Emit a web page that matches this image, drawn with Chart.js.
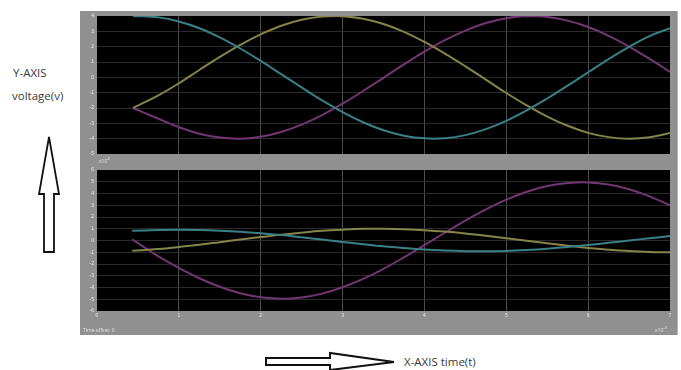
<!DOCTYPE html>
<html>
<head>
<meta charset="utf-8">
<script src="https://cdn.jsdelivr.net/npm/chart.js@4.4.1/dist/chart.umd.min.js"></script>
<style>
  body { margin: 0; background: #fff; width: 681px; height: 370px; overflow: hidden; position: relative; font-family: "Open Sans", sans-serif; }
  #panel { position: absolute; left: 80px; top: 11px; width: 597px; height: 324px; background: #909090; border-right: 1px solid #b4b4b4; }
  canvas { position: absolute; left: 80px; }
  #top { top: 11px; }
  #bottom { top: 161px; }
  .lbl { position: absolute; color: #3a3a3a; font-size: 11.5px; white-space: nowrap; }
  .tiny { position: absolute; color: #e6e6e6; font-size: 5px; white-space: nowrap; }
  svg { position: absolute; left: 0; top: 0; }
</style>
</head>
<body>
<div id="panel"></div>
<canvas id="top" width="597" height="150"></canvas>
<canvas id="bottom" width="597" height="174"></canvas>

<div class="lbl" style="left:13px;top:65px;">Y-AXIS</div>
<div class="lbl" style="left:12px;top:88px;">voltage(v)</div>
<div class="lbl" style="left:404px;top:354px;">X-AXIS time(t)</div>
<div class="tiny" style="left:83px;top:327px;">Time offset: 0</div>
<div class="tiny" style="left:99px;top:156px;">x10<sup>4</sup></div>
<div class="tiny" style="left:655px;top:325px;">x10<sup>-3</sup></div>

<svg width="681" height="370">
  <polygon points="49,137 59,194 54,194 54,252 44,252 44,194 39,194"
           fill="#fff" stroke="#111" stroke-width="1.8" stroke-linejoin="miter"/>
  <polygon points="266,358 330,358 330,353 394,362 330,370 330,365 266,365"
           fill="#fff" stroke="#111" stroke-width="2" stroke-linejoin="miter"/>
</svg>

<script>
// time in divisions (scope x-axis 0..7)
const topTime = [0.44, 0.75, 1.0, 1.25, 1.5, 1.75, 2.0, 2.25, 2.5, 2.75, 3.0, 3.25, 3.5, 3.75, 4.0,
  4.25, 4.5, 4.75, 5.0, 5.25, 5.5, 5.75, 6.0, 6.25, 6.5, 6.75, 7.0];
const topCyan = [4.0, 3.91, 3.64, 3.20, 2.60, 1.88, 1.07, 0.21, -0.66, -1.50, -2.27, -2.93, -3.45, -3.81, -3.98,
  -3.97, -3.77, -3.38, -2.84, -2.16, -1.38, -0.54, 0.33, 1.19, 1.99, 2.69, 3.20];
const topYellow = [-2.0, -1.18, -0.39, 0.48, 1.33, 2.12, 2.80, 3.36, 3.75, 3.96, 3.99, 3.82, 3.48, 2.97, 2.31,
  1.55, 0.72, -0.15, -1.02, -1.83, -2.56, -3.16, -3.62, -3.90, -4.00, -3.91, -3.63];
const topMagenta = [-2.0, -2.70, -3.25, -3.68, -3.93, -4.00, -3.87, -3.56, -3.08, -2.46, -1.72, -0.89, -0.03, 0.84, 1.67,
  2.42, 3.05, 3.54, 3.86, 4.00, 3.94, 3.70, 3.28, 2.71, 2.01, 1.21, 0.36];

const botTime = [0.43, 0.75, 1.0, 1.25, 1.5, 1.75, 2.0, 2.25, 2.5, 2.75, 3.0, 3.25, 3.5, 3.75, 4.0,
  4.25, 4.5, 4.75, 5.0, 5.25, 5.5, 5.75, 6.0, 6.25, 6.5, 6.75, 7.0];
const botMagenta = [0.1, -1.35, -2.33, -3.21, -3.94, -4.49, -4.83, -4.95, -4.85, -4.52, -3.98, -3.27, -2.41, -1.43, -0.40,
  0.66, 1.69, 2.65, 3.48, 4.15, 4.63, 4.89, 4.94, 4.76, 4.36, 3.76, 2.99];
const botYellow = [-0.88, -0.72, -0.55, -0.36, -0.14, 0.08, 0.29, 0.50, 0.67, 0.82, 0.92, 0.99, 1.00, 0.96, 0.88,
  0.76, 0.60, 0.41, 0.20, -0.02, -0.24, -0.44, -0.63, -0.78, -0.90, -0.97, -1.00];
const botCyan = [0.82, 0.89, 0.92, 0.90, 0.84, 0.75, 0.62, 0.46, 0.27, 0.08, -0.12, -0.31, -0.49, -0.64, -0.77,
  -0.86, -0.91, -0.92, -0.89, -0.81, -0.70, -0.56, -0.39, -0.20, 0.00, 0.19, 0.38];

const xTicks = [0, 1, 2, 3, 4, 5, 6, 7];
const topRange = [-5, 4];
const botRange = [-6, 6];

const CYAN = "#3a8086";
const YELLOW = "#86844a";
const MAGENTA = "#723673";

const blackArea = {
  id: "blackArea",
  beforeDraw(chart) {
    const a = chart.chartArea;
    chart.ctx.save();
    chart.ctx.fillStyle = "#000";
    chart.ctx.fillRect(a.left, a.top, a.right - a.left, a.bottom - a.top);
    chart.ctx.restore();
  },
};

function pts(time, vals) {
  return time.map((t, i) => ({ x: t, y: vals[i] }));
}

function line(time, vals, color) {
  return {
    data: pts(time, vals),
    borderColor: color,
    borderWidth: 2,
    pointRadius: 0,
    tension: 0.4,
    clip: 0,
  };
}

function makeScope(id, datasets, range, opts) {
  return new Chart(document.getElementById(id), {
    type: "line",
    data: { datasets },
    options: {
      responsive: false,
      animation: false,
      devicePixelRatio: 1,
      layout: { padding: { left: 0, right: 7, top: opts.top, bottom: 0 } },
      plugins: { legend: { display: false }, tooltip: { enabled: false } },
      scales: {
        x: {
          type: "linear",
          min: xTicks[0],
          max: xTicks[xTicks.length - 1],
          afterBuildTicks: (s) => { s.ticks = xTicks.map((v) => ({ value: v })); },
          afterFit: (s) => { s.height = opts.xh; },
          border: { display: false },
          grid: {
            drawTicks: false,
            color: (c) => (c.index === 0 || c.index === xTicks.length - 1) ? "rgba(0,0,0,0)" : "#4c4c4c",
          },
          ticks: {
            display: opts.xlabels,
            padding: 3,
            color: "#e8e8e8",
            font: { size: 5, lineHeight: 0.8 },
            maxRotation: 0,
          },
        },
        y: {
          min: range[0],
          max: range[1],
          afterFit: (s) => { s.width = 17; },
          border: { display: false },
          grid: {
            drawTicks: false,
            color: (c) => (c.index === 0 || c.index === range[1] - range[0]) ? "rgba(0,0,0,0)" : "#2a2a2a",
          },
          ticks: {
            stepSize: 1,
            padding: 3,
            color: "#e8e8e8",
            font: { size: 5, lineHeight: 0.8 },
          },
        },
      },
    },
    plugins: [blackArea],
  });
}

makeScope("top", [
  line(topTime, topCyan, CYAN),
  line(topTime, topYellow, YELLOW),
  line(topTime, topMagenta, MAGENTA),
], topRange, { top: 2, xh: 7, xlabels: false });

makeScope("bottom", [
  line(botTime, botCyan, CYAN),
  line(botTime, botYellow, YELLOW),
  line(botTime, botMagenta, MAGENTA),
], botRange, { top: 9, xh: 24, xlabels: true });
</script>
</body>
</html>
